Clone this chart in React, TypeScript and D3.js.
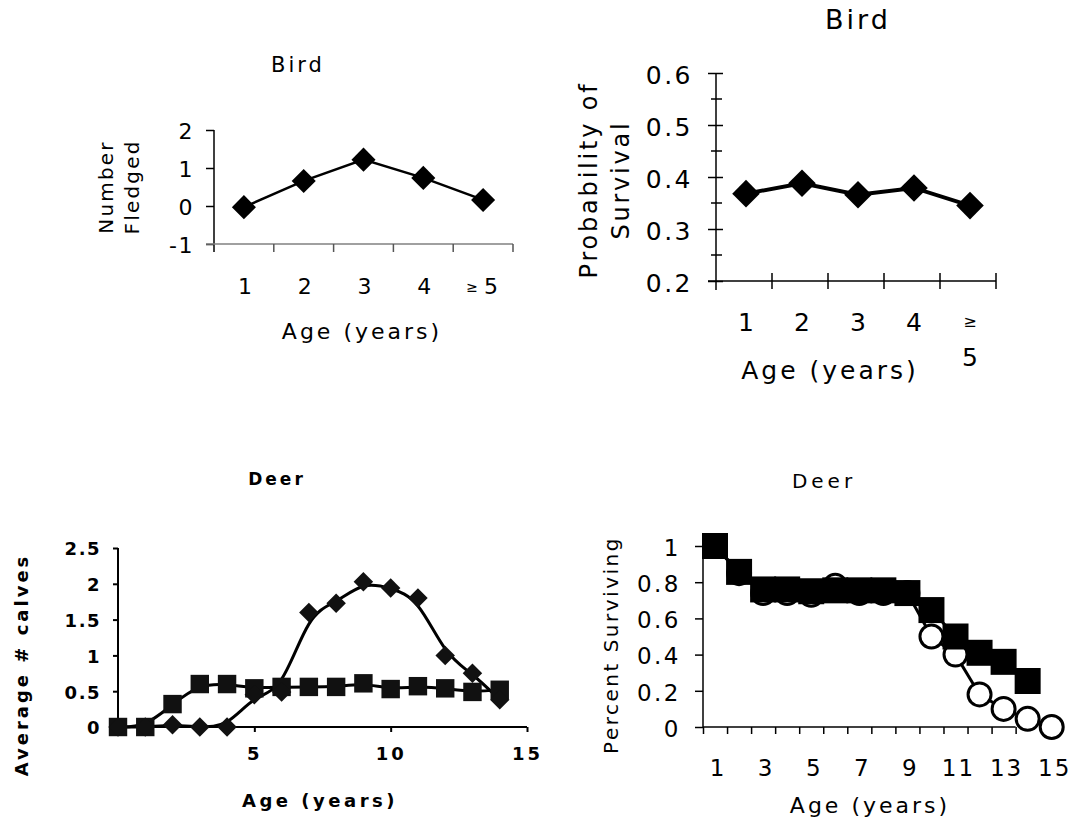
import React, { useEffect, useRef } from "react";
import * as d3 from "d3";

// ---------- DATA ----------
const birdAgeLabels = ["1", "2", "3", "4", "≥ 5"];
const birdFledged = [-0.03, 0.66, 1.22, 0.74, 0.16];
const fledgedTicks = [-1, 0, 1, 2];

const birdSurvival = [0.368, 0.388, 0.366, 0.379, 0.345];
const survivalTicks = [0.2, 0.3, 0.4, 0.5, 0.6];
const survivalMinorTicks = [0.25, 0.35, 0.45, 0.55];

const calfAges = [0, 1, 2, 3, 4, 5, 6, 7, 8, 9, 10, 11, 12, 13, 14];
const calvesDiamond = [0, 0, 0.03, 0, 0, 0.45, 0.49, 1.6, 1.73, 2.03, 1.94, 1.8, 1.0, 0.75, 0.38];
const calvesSquare = [0, 0, 0.32, 0.6, 0.6, 0.54, 0.56, 0.56, 0.56, 0.61, 0.53, 0.57, 0.54, 0.49, 0.52];
const calvesTicksY = [0, 0.5, 1, 1.5, 2, 2.5];
const calvesTicksX = [5, 10, 15];

const survSquareAges = [1, 2, 3, 4, 5, 6, 7, 8, 9, 10, 11, 12, 13, 14];
const survSquare = [1.0, 0.857, 0.76, 0.76, 0.75, 0.755, 0.755, 0.755, 0.74, 0.646, 0.5, 0.41, 0.36, 0.254];
const survCircleAges = [1, 2, 3, 4, 5, 6, 7, 8, 9, 10, 11, 12, 13, 14, 15];
const survCircle = [1.0, 0.85, 0.74, 0.74, 0.73, 0.78, 0.74, 0.74, 0.74, 0.5, 0.4, 0.18, 0.1, 0.045, 0.0];
const survTicksY = [0, 0.2, 0.4, 0.6, 0.8, 1];
const survTickPositions = [0.5, 1.5, 2.5, 3.5, 4.5, 5.5, 6.5, 7.5, 8.5, 9.5, 10.5, 11.5, 12.5, 13.5];
const survLabelAges = [1, 3, 5, 7, 9, 11, 13, 15];

const FONT = "'DejaVu Sans', Verdana, sans-serif";

type TOpt = { size: number; anchor?: string; ls?: number; weight?: string; rotate?: boolean };

function addText(g: any, x: number, y: number, s: string, o: TOpt) {
  const t = g
    .append("text")
    .attr("x", x)
    .attr("y", y)
    .attr("font-family", FONT)
    .attr("font-size", o.size)
    .attr("font-weight", o.weight ?? "normal")
    .attr("text-anchor", o.anchor ?? "middle")
    .attr("letter-spacing", o.ls ?? 0)
    .attr("fill", "#000")
    .text(s);
  if (o.rotate) t.attr("transform", `rotate(-90 ${x} ${y})`);
  return t;
}

function styleAxis(ax: any, size: number, ls: number, weight = "normal", stroke = "#000", sw = 1.5) {
  ax.selectAll("text")
    .attr("font-family", FONT)
    .attr("font-size", size)
    .attr("font-weight", weight)
    .attr("letter-spacing", ls)
    .attr("fill", "#000");
  ax.selectAll("line").attr("stroke", stroke).attr("stroke-width", sw);
  ax.selectAll("path").attr("stroke", stroke).attr("stroke-width", sw);
}

export default function App() {
  const ref = useRef<SVGSVGElement | null>(null);

  useEffect(() => {
    const svg = d3.select(ref.current);
    svg.selectAll("*").remove();
    svg.append("rect").attr("width", 1076).attr("height", 823).attr("fill", "#fff");

    // ================= TOP-LEFT: Bird, Number Fledged =================
    {
      const g = svg.append("g");
      const x = d3.scaleBand<string>().domain(birdAgeLabels).range([214, 513]).padding(0);
      const y = d3.scaleLinear().domain([-1, 2]).range([244, 130]);

      const ya = g.append("g").attr("transform", "translate(214,0)")
        .call(d3.axisLeft(y).tickValues(fledgedTicks).tickSize(8).tickPadding(12).tickFormat((d: any) => String(d)));
      ya.select(".domain").remove();
      styleAxis(ya, 22, 1.5);
      ya.selectAll("text").attr("dy", "0.4em");
      g.append("line").attr("x1", 214).attr("x2", 214).attr("y1", y(2)).attr("y2", 252)
        .attr("stroke", "#000").attr("stroke-width", 1.5);

      g.append("line").attr("x1", 206).attr("x2", 513).attr("y1", y(-1)).attr("y2", y(-1))
        .attr("stroke", "#808080").attr("stroke-width", 1.5);
      const edges = birdAgeLabels.map((d) => x(d) as number).concat([x.range()[1]]);
      edges.slice(1).forEach((e) => {
        g.append("line").attr("x1", e).attr("x2", e).attr("y1", y(-1)).attr("y2", y(-1) + 8)
          .attr("stroke", "#555").attr("stroke-width", 1.5);
      });
      birdAgeLabels.forEach((lab) => {
        const cx = (x(lab) as number) + x.bandwidth() / 2;
        if (lab.startsWith("≥")) {
          addText(g, cx - 11, 292, "≥", { size: 14 });
          addText(g, cx + 8, 294, "5", { size: 22 });
        } else {
          addText(g, cx + 1, 294, lab, { size: 22 });
        }
      });

      const pts = birdFledged.map((v, i) => [(x(birdAgeLabels[i]) as number) + x.bandwidth() / 2, y(v)] as [number, number]);
      g.append("path").attr("d", d3.line()(pts)).attr("fill", "none").attr("stroke", "#000").attr("stroke-width", 2.5);
      const diamond = d3.symbol().type(d3.symbolSquare).size(290);
      pts.forEach(([px, py]) => {
        g.append("path").attr("d", diamond()).attr("transform", `translate(${px},${py}) rotate(45)`).attr("fill", "#000");
      });

      addText(g, 298, 72, "Bird", { size: 21, ls: 3 });
      addText(g, 362, 339, "Age  (years)", { size: 22, ls: 3 });
      addText(g, 113, 187, "Number", { size: 20, ls: 2.2, rotate: true });
      addText(g, 139, 187, "Fledged", { size: 20, ls: 2.2, rotate: true });
    }

    // ================= TOP-RIGHT: Bird, Probability of Survival =================
    {
      const g = svg.append("g");
      const x = d3.scaleBand<string>().domain(birdAgeLabels).range([716, 996]).padding(0);
      const y = d3.scaleLinear().domain([0.2, 0.6]).range([281, 73]);

      g.append("line").attr("x1", 716).attr("x2", 716).attr("y1", y(0.6)).attr("y2", 290)
        .attr("stroke", "#000").attr("stroke-width", 1.5);
      const ya = g.append("g").attr("transform", "translate(716,0)")
        .call(d3.axisLeft(y).tickValues(survivalTicks).tickSize(8).tickPadding(15).tickFormat(d3.format(".1f")));
      ya.select(".domain").remove();
      styleAxis(ya, 25, 2.5);
      ya.selectAll("text").attr("dy", "0.42em");
      ya.selectAll(".tick line").attr("x1", 7);
      survivalMinorTicks.forEach((v) => {
        g.append("line").attr("x1", 711).attr("x2", 722).attr("y1", y(v)).attr("y2", y(v))
          .attr("stroke", "#000").attr("stroke-width", 1.5);
      });

      g.append("line").attr("x1", 708).attr("x2", 996).attr("y1", y(0.2)).attr("y2", y(0.2))
        .attr("stroke", "#000").attr("stroke-width", 1.5);
      const edges = birdAgeLabels.map((d) => x(d) as number).concat([x.range()[1]]);
      edges.slice(1).forEach((e) => {
        g.append("line").attr("x1", e).attr("x2", e).attr("y1", y(0.2) - 8).attr("y2", y(0.2) + 8)
          .attr("stroke", "#000").attr("stroke-width", 1.5);
      });
      birdAgeLabels.forEach((lab) => {
        const cx = (x(lab) as number) + x.bandwidth() / 2 + 2;
        if (lab.startsWith("≥")) {
          addText(g, cx, 327, "≥", { size: 16 });
          addText(g, cx, 366, "5", { size: 25 });
        } else {
          addText(g, cx, 331, lab, { size: 25 });
        }
      });

      const pts = birdSurvival.map((v, i) => [(x(birdAgeLabels[i]) as number) + x.bandwidth() / 2 + 2, y(v)] as [number, number]);
      g.append("path").attr("d", d3.line()(pts)).attr("fill", "none").attr("stroke", "#000").attr("stroke-width", 4);
      const diamond = d3.symbol().type(d3.symbolSquare).size(380);
      pts.forEach(([px, py]) => {
        g.append("path").attr("d", diamond()).attr("transform", `translate(${px},${py}) rotate(45)`).attr("fill", "#000");
      });

      addText(g, 858, 29, "Bird", { size: 27, ls: 3 });
      addText(g, 830, 379, "Age  (years)", { size: 25, ls: 3 });
      addText(g, 597, 180, "Probability of", { size: 24, ls: 2.8, rotate: true });
      addText(g, 629, 180, "Survival", { size: 24, ls: 2.8, rotate: true });
    }

    // ================= BOTTOM-LEFT: Deer, Average # calves =================
    {
      const g = svg.append("g");
      const x = d3.scaleLinear().domain([0, 15]).range([118, 527]);
      const y = d3.scaleLinear().domain([0, 2.5]).range([727, 548]);

      const ya = g.append("g").attr("transform", "translate(118,0)")
        .call(d3.axisLeft(y).tickValues(calvesTicksY).tickSize(5).tickPadding(12).tickFormat((d: any) => String(d)));
      styleAxis(ya, 18, 1.5, "bold", "#000", 2);
      ya.select(".domain").attr("d", `M0,${y(2.5)}V${y(0)}`);
      ya.selectAll("text").attr("dy", "0.38em");

      const xa = g.append("g").attr("transform", `translate(0,${y(0)})`)
        .call(d3.axisBottom(x).tickValues(calvesTicksX).tickSize(5).tickPadding(15));
      styleAxis(xa, 18, 3, "bold", "#000", 2);
      xa.select(".domain").attr("d", `M${x(0)},0H${x(15)}`);

      const line = d3.line<number>().x((_, i) => x(calfAges[i])).curve(d3.curveBasis);
      g.append("path").attr("d", line.y((v) => y(v))(calvesSquare)).attr("fill", "none").attr("stroke", "#000").attr("stroke-width", 3);
      g.append("path").attr("d", line.y((v) => y(v))(calvesDiamond)).attr("fill", "none").attr("stroke", "#000").attr("stroke-width", 3);

      const sq = d3.symbol().type(d3.symbolSquare).size(340);
      calvesSquare.forEach((v, i) => {
        g.append("path").attr("d", sq()).attr("transform", `translate(${x(calfAges[i])},${y(v)})`).attr("fill", "#111");
      });
      const dm = d3.symbol().type(d3.symbolSquare).size(190);
      calvesDiamond.forEach((v, i) => {
        g.append("path").attr("d", dm()).attr("transform", `translate(${x(calfAges[i])},${y(v)}) rotate(45)`).attr("fill", "#111");
      });

      addText(g, 277, 485, "Deer", { size: 17, ls: 3, weight: "bold" });
      addText(g, 320, 807, "Age (years)", { size: 18, ls: 3.5, weight: "bold" });
      addText(g, 28, 665, "Average # calves", { size: 18, ls: 3, weight: "bold", rotate: true });
    }

    // ================= BOTTOM-RIGHT: Deer, Percent Surviving =================
    {
      const g = svg.append("g");
      const x = d3.scaleLinear().domain([0.5, 15]).range([703, 1051.7]);
      const y = d3.scaleLinear().domain([0, 1]).range([727, 546]);

      const ya = g.append("g").attr("transform", "translate(703,0)")
        .call(d3.axisLeft(y).tickValues(survTicksY).tickSize(8).tickPadding(14).tickFormat((d: any) => (d === 0 ? "0" : d === 1 ? "1" : d3.format(".1f")(d))));
      styleAxis(ya, 23, 2.5);
      ya.select(".domain").attr("d", `M0,${y(1)}V${y(0)}`);
      ya.selectAll("text").attr("dy", "0.4em");

      const xa = g.append("g").attr("transform", `translate(0,${y(0)})`)
        .call(d3.axisBottom(x).tickValues(survTickPositions).tickSize(7).tickFormat(() => ""));
      styleAxis(xa, 20, 2);
      xa.select(".domain").attr("d", `M${x(0.5)},0H${x(13.5)}`);
      survLabelAges.forEach((a) => addText(g, x(a) + 3, 776, String(a), { size: 23, ls: 2 }));

      const lineSq = d3.line<number>().x((_, i) => x(survSquareAges[i])).y((v) => y(v));
      const lineCi = d3.line<number>().x((_, i) => x(survCircleAges[i])).y((v) => y(v));
      g.append("path").attr("d", lineCi(survCircle)).attr("fill", "none").attr("stroke", "#000").attr("stroke-width", 3);
      survCircle.forEach((v, i) => {
        g.append("circle").attr("cx", x(survCircleAges[i])).attr("cy", y(v)).attr("r", 11.5)
          .attr("fill", "#fff").attr("stroke", "#000").attr("stroke-width", 3);
      });
      g.append("path").attr("d", lineSq(survSquare)).attr("fill", "none").attr("stroke", "#000").attr("stroke-width", 3);
      const sq = d3.symbol().type(d3.symbolSquare).size(676);
      survSquare.forEach((v, i) => {
        g.append("path").attr("d", sq()).attr("transform", `translate(${x(survSquareAges[i])},${y(v)})`).attr("fill", "#000");
      });

      addText(g, 824, 488, "Deer", { size: 20, ls: 4 });
      addText(g, 870, 813, "Age  (years)", { size: 22, ls: 3 });
      addText(g, 618, 645, "Percent Surviving", { size: 20, ls: 2.5, rotate: true });
    }
  }, []);

  return (
    <svg
      ref={ref}
      width={1076}
      height={823}
      style={{ position: "absolute", left: 0, top: 0, display: "block" }}
    />
  );
}
